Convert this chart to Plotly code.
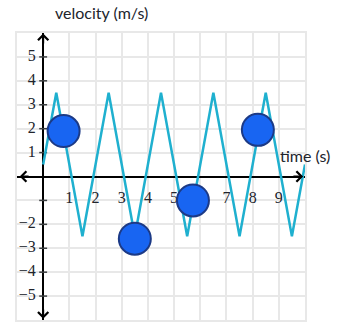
import plotly.graph_objects as go

# ---- data ----
wave_t = [0, 0.5, 1.5, 2.5, 3.5, 4.5, 5.5, 6.5, 7.5, 8.5, 9.5, 10]
wave_v = [0.5, 3.5, -2.5, 3.5, -2.5, 3.5, -2.5, 3.5, -2.5, 3.5, -2.5, 0.5]
point_t = [0.78, 3.5, 5.72, 8.2]
point_v = [1.9, -2.6, -1.0, 1.95]
x_tick_vals = [1, 2, 3, 4, 5, 6, 7, 8, 9]
y_tick_vals = [5, 4, 3, 2, 1, -2, -3, -4, -5]
y_tick_marks = [5, 4, 3, 2, 1, -1, -2, -3, -4, -5]
x_range = [-1, 10]
y_range = [-6, 6]

LINE_COLOR = "#1fb0cf"
POINT_FILL = "#1865f2"
POINT_EDGE = "#1c3a86"
TEXT_COLOR = "#21242c"
GRID_COLOR = "#e8e8e8"
SERIF = "Liberation Serif"
SANS = "Lato"


def fmt(v):
    return str(v).replace("-", "\u2212")


fig = go.Figure()

# tick labels (drawn under the curve and points)
fig.add_trace(go.Scatter(
    x=x_tick_vals, y=[-0.95] * len(x_tick_vals), mode="text",
    text=[fmt(v) for v in x_tick_vals], textposition="middle center",
    textfont=dict(family=SERIF, size=16, color=TEXT_COLOR),
    hoverinfo="skip", showlegend=False))
fig.add_trace(go.Scatter(
    x=[-0.28] * len(y_tick_vals), y=y_tick_vals, mode="text",
    text=[fmt(v) for v in y_tick_vals], textposition="middle left",
    textfont=dict(family=SERIF, size=16, color=TEXT_COLOR),
    hoverinfo="skip", showlegend=False))

# zigzag curve
fig.add_trace(go.Scatter(
    x=wave_t, y=wave_v, mode="lines",
    line=dict(color=LINE_COLOR, width=2.5),
    hoverinfo="skip", showlegend=False))

# points
fig.add_trace(go.Scatter(
    x=point_t, y=point_v, mode="markers",
    marker=dict(size=32, color=POINT_FILL, line=dict(color=POINT_EDGE, width=2)),
    hoverinfo="skip", showlegend=False))

# y-axis tick marks
shapes = []
for v in y_tick_marks:
    shapes.append(dict(type="line", xref="x", yref="y", x0=-0.15, x1=0.15, y0=v, y1=v,
                       line=dict(color="#3b3e40", width=1.5), layer="between"))

# axis arrowheads
annotations = []
arrow_style = dict(showarrow=True, arrowhead=4, arrowsize=1, arrowwidth=2,
                   arrowcolor="#000000", text="", xref="x", yref="y",
                   axref="x", ayref="y")
annotations.append(dict(x=0, y=5.98, ax=0, ay=5.5, **arrow_style))
annotations.append(dict(x=0, y=-5.95, ax=0, ay=-5.5, **arrow_style))
annotations.append(dict(x=9.93, y=0, ax=9.5, ay=0, **arrow_style))
annotations.append(dict(x=-0.9, y=0, ax=-0.5, ay=0, **arrow_style))

# axis titles
annotations.append(dict(text="velocity (m/s)", xref="paper", yref="paper",
                        x=(101.5 - 17) / 288, y=1 + (33 - 13) / 287,
                        xanchor="center", yanchor="middle", showarrow=False,
                        font=dict(family=SANS, size=16, color=TEXT_COLOR)))
annotations.append(dict(text="time (s)", xref="x", yref="y",
                        x=8.96, y=0.88, xanchor="left", yanchor="middle",
                        showarrow=False,
                        font=dict(family=SANS, size=16, color=TEXT_COLOR)))

axis_common = dict(dtick=1, showgrid=True, gridcolor=GRID_COLOR, gridwidth=2,
                   showticklabels=False, ticks="", zeroline=True,
                   zerolinecolor="#000000", zerolinewidth=2,
                   showline=True, mirror=True, linecolor=GRID_COLOR, linewidth=2,
                   fixedrange=True)

fig.update_layout(
    width=339, height=330,
    margin=dict(l=17, r=34, t=33, b=10),
    paper_bgcolor="white", plot_bgcolor="white",
    xaxis=dict(range=x_range, tick0=0, **axis_common),
    yaxis=dict(range=y_range, tick0=0, **axis_common),
    shapes=shapes, annotations=annotations,
    showlegend=False,
)

fig.write_html("out.html", config={"displayModeBar": False})
